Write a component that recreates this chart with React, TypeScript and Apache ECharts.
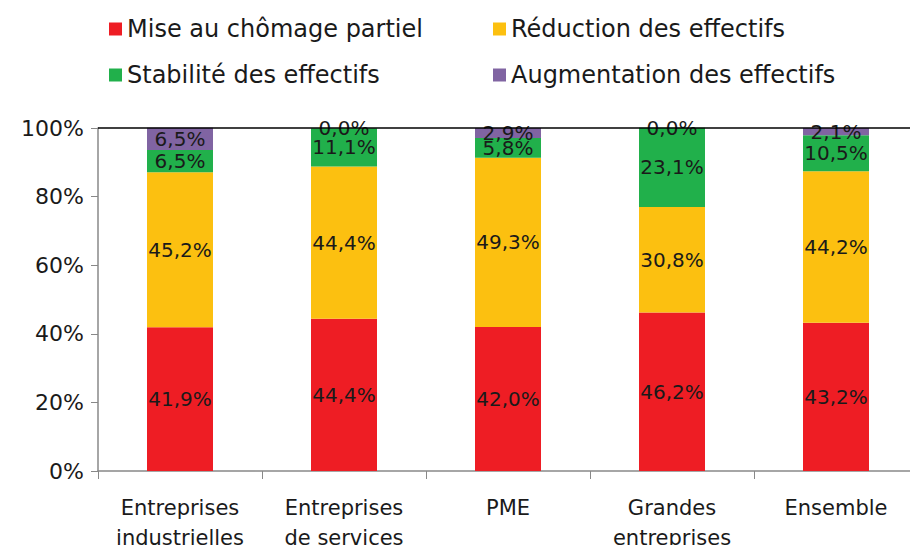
import React, { useEffect, useRef } from "react";
import * as echarts from "echarts";

const categories = [
  "Entreprises\nindustrielles",
  "Entreprises\nde services",
  "PME",
  "Grandes\nentreprises",
  "Ensemble",
];
const seriesNames = [
  "Mise au chômage partiel",
  "Réduction des effectifs",
  "Stabilité des effectifs",
  "Augmentation des effectifs",
];
const chomage = [41.9, 44.4, 42.0, 46.2, 43.2];
const reduction = [45.2, 44.4, 49.3, 30.8, 44.2];
const stabilite = [6.5, 11.1, 5.8, 23.1, 10.5];
const augmentation = [6.5, 0.0, 2.9, 0.0, 2.1];
const yTicks = [0, 20, 40, 60, 80, 100];
const colors = ["#EE1D24", "#FCC010", "#21B04B", "#8064A2"];

const FONT = "DejaVu Sans";

export default function App() {
  const ref = useRef<HTMLDivElement>(null);
  useEffect(() => {
    if (!ref.current) return;
    const chart = echarts.init(ref.current, null, { renderer: "svg" });
    const values = [chomage, reduction, stabilite, augmentation];
    const series = values.map((vals, i) => ({
      name: seriesNames[i],
      type: "bar",
      stack: "total",
      barWidth: 66,
      clip: false,
      data: vals,
      itemStyle: { color: colors[i] },
      label: {
        show: true,
        position: "inside",
        color: "#1a1a1a",
        fontFamily: FONT,
        fontSize: 20,
        formatter: (p: any) => p.value.toFixed(1).replace(".", ",") + "%",
      },
      ...(i === 3
        ? {
            markLine: {
              silent: true,
              symbol: "none",
              label: { show: false },
              lineStyle: { color: "#000", width: 1.5, type: "solid" },
              data: [{ yAxis: yTicks[yTicks.length - 1] }],
            },
          }
        : {}),
    }));
    const legendText = { fontSize: 24, color: "#1a1a1a", fontFamily: FONT };
    chart.setOption({
      animation: false,
      textStyle: { fontFamily: FONT },
      legend: [
        {
          data: [seriesNames[0], seriesNames[2]],
          left: 104,
          top: 12,
          orient: "vertical",
          itemGap: 22,
          itemWidth: 13,
          itemHeight: 13,
          icon: "rect",
          textStyle: legendText,
        },
        {
          data: [seriesNames[1], seriesNames[3]],
          left: 488,
          top: 12,
          orient: "vertical",
          itemGap: 22,
          itemWidth: 13,
          itemHeight: 13,
          icon: "rect",
          textStyle: legendText,
        },
      ],
      grid: { left: 98, right: -10, top: 128, bottom: 80, containLabel: false },
      xAxis: {
        type: "category",
        data: categories,
        axisLine: { lineStyle: { color: "#888", width: 1.5 } },
        axisTick: { show: true, length: 8, lineStyle: { color: "#888" } },
        axisLabel: {
          interval: 0,
          color: "#1a1a1a",
          fontSize: 21,
          lineHeight: 30,
          margin: 22,
          fontFamily: FONT,
        },
      },
      yAxis: {
        type: "value",
        min: 0,
        max: 100,
        interval: 20,
        axisLine: { show: true, lineStyle: { color: "#888", width: 1.5 } },
        axisTick: { show: true, length: 7, lineStyle: { color: "#888" } },
        splitLine: { show: false },
        axisLabel: {
          formatter: "{value}%",
          color: "#1a1a1a",
          fontSize: 22,
          margin: 14,
          fontFamily: FONT,
        },
      },
      series,
    });
    return () => chart.dispose();
  }, []);
  return <div ref={ref} style={{ width: 918, height: 553, margin: -8 }} />;
}
